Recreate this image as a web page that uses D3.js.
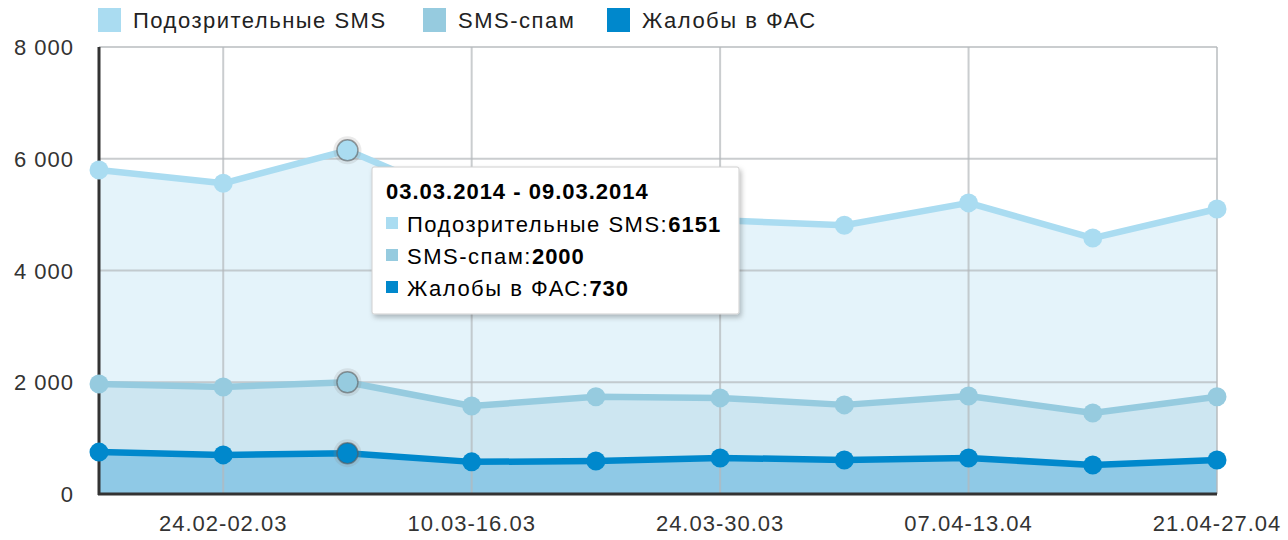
<!DOCTYPE html>
<html>
  <head>
    <meta charset="utf-8">
    <script src="https://d3js.org/d3.v7.min.js" charset="utf-8"></script>
    <style>
      body { margin: 0; background: #fff; }
      text { font-family: "Liberation Sans", Helvetica, Arial, sans-serif; letter-spacing: 1px; }
      .wide { letter-spacing: 1.5px; }
    </style>
  </head>
  <body>
    <script type="text/javascript">

var weeks = ["17.02-23.02", "24.02-02.03", "03.03-09.03", "10.03-16.03", "17.03-23.03",
             "24.03-30.03", "31.03-06.04", "07.04-13.04", "14.04-20.04", "21.04-27.04"];
var suspicious = [5800, 5560, 6151, 5200, 4950, 4900, 4810, 5210, 4580, 5100];
var spam       = [1970, 1915, 2000, 1575, 1740, 1720, 1595, 1755, 1450, 1740];
var complaints = [750, 700, 730, 575, 590, 645, 610, 645, 520, 610];
var seriesNames = ["Подозрительные SMS", "SMS-спам", "Жалобы в ФАС"];
var yTicks = [0, 2000, 4000, 6000, 8000];
var tooltipTitle = "03.03.2014 - 09.03.2014";
var hoverIndex = 2;

var w = 1288, h = 540;
var mLeft = 99, mRight = 1217, mTop = 47, mBottom = 494;

var series = [
  { name: seriesNames[0], values: suspicious, line: "#aadcf1", fill: "#e4f3fa" },
  { name: seriesNames[1], values: spam,       line: "#96cbdf", fill: "#cde6f1" },
  { name: seriesNames[2], values: complaints, line: "#0088cc", fill: "#8fc9e6" }
];

var x = d3.scalePoint().domain(weeks).range([mLeft, mRight]);
var y = d3.scaleLinear().domain([0, 8000]).range([mBottom, mTop]);

var svg = d3.select("body").append("svg")
    .attr("width", w)
    .attr("height", h);

// areas, top series first
svg.selectAll("path.area")
    .data(series)
    .enter()
    .append("path")
    .attr("class", "area")
    .attr("fill", function(d) { return d.fill; })
    .attr("d", function(d) {
      return d3.area()
        .x(function(v, i) { return x(weeks[i]); })
        .y0(y(0))
        .y1(function(v) { return y(v); })(d.values);
    });

// grid
svg.selectAll("line.hgrid")
    .data(yTicks.slice(1))
    .enter()
    .append("line")
    .attr("x1", mLeft).attr("x2", mRight)
    .attr("y1", function(d) { return y(d); })
    .attr("y2", function(d) { return y(d); })
    .style("stroke", "#b4b8bb")
    .style("stroke-opacity", 0.7)
    .style("stroke-width", 2);

svg.selectAll("line.vgrid")
    .data(weeks.filter(function(d, i) { return i % 2 == 1; }))
    .enter()
    .append("line")
    .attr("x1", function(d) { return x(d); })
    .attr("x2", function(d) { return x(d); })
    .attr("y1", mTop).attr("y2", mBottom)
    .style("stroke", "#b4b8bb")
    .style("stroke-opacity", 0.7)
    .style("stroke-width", 2);

// axes lines
svg.append("line")
    .attr("x1", mLeft).attr("x2", mLeft).attr("y1", mTop).attr("y2", mBottom + 1)
    .style("stroke", "#333").style("stroke-width", 3);
svg.append("line")
    .attr("x1", mLeft - 1).attr("x2", mRight).attr("y1", mBottom).attr("y2", mBottom)
    .style("stroke", "#333").style("stroke-width", 3);

// axis labels
svg.selectAll("text.ylab")
    .data(yTicks)
    .enter()
    .append("text")
    .attr("x", 74)
    .attr("y", function(d) { return y(d) + 8; })
    .attr("text-anchor", "end")
    .style("font-size", "22px")
    .style("fill", "#333")
    .text(function(d) { return d3.format(",")(d).replace(/,/g, " "); });

svg.selectAll("text.xlab")
    .data(weeks.filter(function(d, i) { return i % 2 == 1; }))
    .enter()
    .append("text")
    .attr("x", function(d) { return x(d); })
    .attr("y", 531)
    .attr("text-anchor", "middle")
    .style("font-size", "22px")
    .style("fill", "#333")
    .text(function(d) { return d; });

// lines and points
var line = d3.line()
    .x(function(v, i) { return x(weeks[i]); })
    .y(function(v) { return y(v); });

series.forEach(function(s) {
  svg.append("path")
    .attr("d", line(s.values))
    .attr("fill", "none")
    .style("stroke", s.line)
    .style("stroke-width", 6.5)
    .style("stroke-linejoin", "round");

  // halo on hovered point
  svg.append("circle")
    .attr("cx", x(weeks[hoverIndex]))
    .attr("cy", y(s.values[hoverIndex]))
    .attr("r", 14)
    .style("fill", "#888")
    .style("fill-opacity", 0.18);

  svg.selectAll(null)
    .data(s.values)
    .enter()
    .append("circle")
    .attr("cx", function(v, i) { return x(weeks[i]); })
    .attr("cy", function(v) { return y(v); })
    .attr("r", function(v, i) { return i == hoverIndex ? 10.5 : 9.5; })
    .style("fill", s.line)
    .style("stroke", function(v, i) { return i == hoverIndex ? "rgba(90,90,90,0.6)" : "none"; })
    .style("stroke-width", 1.5);
});

// legend
var legendX = [98, 423, 607];
var legend = svg.selectAll("g.legend")
    .data(series)
    .enter()
    .append("g")
    .attr("transform", function(d, i) { return "translate(" + legendX[i] + ",8)"; });
legend.append("rect")
    .attr("width", 23).attr("height", 24)
    .style("fill", function(d) { return d.line; });
legend.append("text")
    .attr("class", "wide")
    .attr("x", 35).attr("y", 20)
    .style("font-size", "22px")
    .style("fill", "#222")
    .text(function(d) { return d.name; });

// tooltip
var defs = svg.append("defs");
var f = defs.append("filter").attr("id", "shadow").attr("x", "-10%").attr("y", "-10%")
    .attr("width", "130%").attr("height", "130%");
f.append("feDropShadow").attr("dx", 2).attr("dy", 3).attr("stdDeviation", 2.5)
    .attr("flood-color", "#000").attr("flood-opacity", 0.25);

var tip = svg.append("g").attr("transform", "translate(372,167)");
tip.append("rect")
    .attr("width", 367).attr("height", 147)
    .attr("rx", 2)
    .style("fill", "#fff")
    .style("stroke", "#cfcfcf")
    .style("filter", "url(#shadow)");
tip.append("text")
    .attr("x", 14).attr("y", 32)
    .style("font-size", "22px")
    .style("font-weight", "bold")
    .style("fill", "#000")
    .text(tooltipTitle);
var rows = tip.selectAll("g.row")
    .data(series)
    .enter()
    .append("g")
    .attr("transform", function(d, i) { return "translate(14," + (65 + i * 32) + ")"; });
rows.append("rect")
    .attr("y", -15).attr("width", 12).attr("height", 12)
    .style("fill", function(d) { return d.line; });
var rt = rows.append("text")
    .attr("x", 21)
    .style("font-size", "22px")
    .style("fill", "#000");
rt.append("tspan").attr("class", "wide").text(function(d) { return d.name + ":"; });
rt.append("tspan").style("font-weight", "bold").text(function(d) { return d.values[hoverIndex]; });

    </script>
  </body>
</html>
